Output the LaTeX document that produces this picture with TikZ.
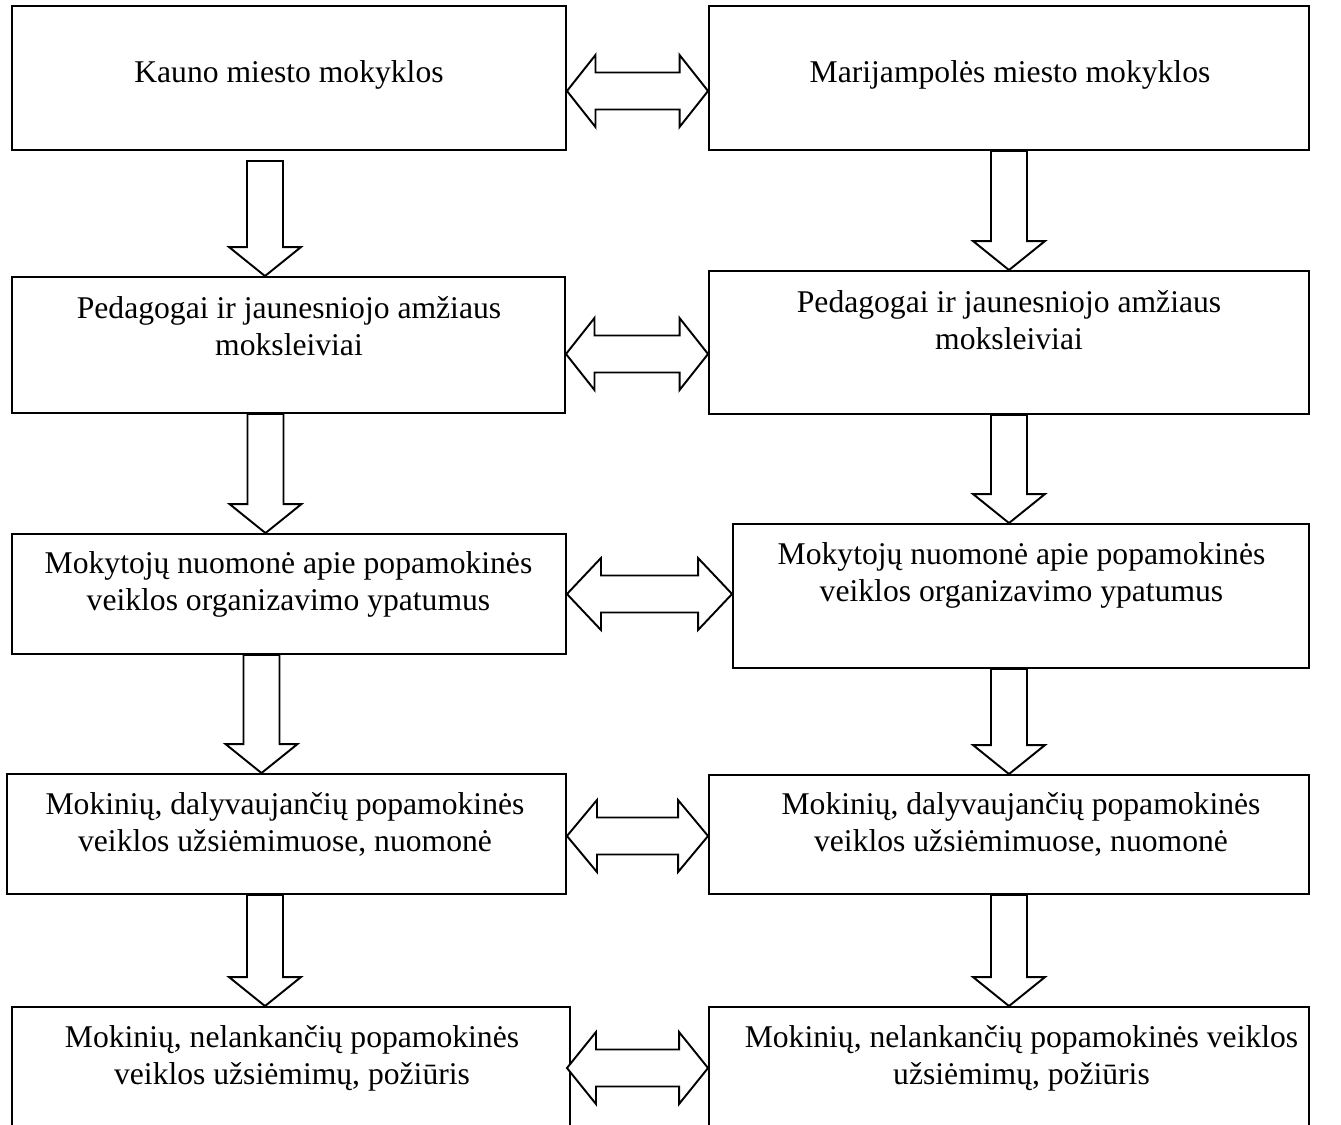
\documentclass[tikz,border=0pt]{standalone}
\usepackage{fontspec}
\setmainfont{Liberation Serif}
\usetikzlibrary{calc}

% hollow block arrows: start point, tip point
\newcommand{\downblock}[3][0.58cm]{%
  \draw[blockarrow] let \p1=(#2), \p2=(#3) in
    (\x2-0.36cm,\y1) -- (\x2+0.36cm,\y1) -- (\x2+0.36cm,\y2+#1)
    -- (\x2+0.72cm,\y2+#1) -- (\x2,\y2) -- (\x2-0.72cm,\y2+#1)
    -- (\x2-0.36cm,\y2+#1) -- cycle;}
\newcommand{\sideblock}[3][0.57cm]{%
  \draw[blockarrow] let \p1=(#2), \p2=(#3) in
    (\x1,\y1) -- (\x1+#1,\y1+0.72cm) -- (\x1+#1,\y1+0.37cm) -- (\x2-#1,\y1+0.37cm)
    -- (\x2-#1,\y1+0.72cm) -- (\x2,\y1) -- (\x2-#1,\y1-0.72cm) -- (\x2-#1,\y1-0.37cm)
    -- (\x1+#1,\y1-0.37cm) -- (\x1+#1,\y1-0.72cm) -- cycle;}

\begin{document}
\begin{tikzpicture}[
    box/.style={draw, line width=1.1pt, inner sep=0pt},
    txt/.style={align=center, inner sep=0pt, font=\fontsize{18}{21}\selectfont},
    blockarrow/.style={draw, line width=1.1pt, fill=white, line join=miter}]
    \useasboundingbox (0,0) rectangle (26.82,-22.48);

    % left column: Kaunas
    \node[box, minimum width=11.08cm, minimum height=2.88cm] (L1) at (5.78,-1.56) {};
    \node[box, minimum width=11.06cm, minimum height=2.72cm] (L2) at (5.77,-6.90) {};
    \node[box, minimum width=11.08cm, minimum height=2.40cm] (L3) at (5.78,-11.88) {};
    \node[box, minimum width=11.18cm, minimum height=2.40cm] (L4) at (5.73,-16.68) {};
    \node[box, minimum width=11.16cm, minimum height=2.86cm] (L5) at (5.82,-21.57) {};

    % right column: Marijampole
    \node[box, minimum width=12.00cm, minimum height=2.88cm] (R1) at (20.18,-1.56) {};
    \node[box, minimum width=12.00cm, minimum height=2.86cm] (R2) at (20.18,-6.85) {};
    \node[box, minimum width=11.52cm, minimum height=2.88cm] (R3) at (20.42,-11.92) {};
    \node[box, minimum width=12.00cm, minimum height=2.38cm] (R4) at (20.18,-16.69) {};
    \node[box, minimum width=12.00cm, minimum height=2.86cm] (R5) at (20.18,-21.57) {};

    \node[txt] (L1t) at (5.78,-1.50) {Kauno miesto mokyklos};
    \node[txt] (L2t) at (5.78,-6.52) {Pedagogai ir jaunesniojo amžiaus\\moksleiviai};
    \node[txt] (L3t) at (5.77,-11.69) {Mokytojų nuomonė apie popamokinės\\veiklos organizavimo ypatumus};
    \node[txt] (L4t) at (5.70,-16.49) {Mokinių, dalyvaujančių popamokinės\\veiklos užsiėmimuose, nuomonė};
    \node[txt] (L5t) at (5.84,-21.16) {Mokinių, nelankančių popamokinės\\veiklos užsiėmimų, požiūris};

    \node[txt] (R1t) at (20.20,-1.50) {Marijampolės miesto mokyklos};
    \node[txt] (R2t) at (20.18,-6.40) {Pedagogai ir jaunesniojo amžiaus\\moksleiviai};
    \node[txt] (R3t) at (20.43,-11.50) {Mokytojų nuomonė apie popamokinės\\veiklos organizavimo ypatumus};
    \node[txt] (R4t) at (20.42,-16.49) {Mokinių, dalyvaujančių popamokinės\\veiklos užsiėmimuose, nuomonė};
    \node[txt] (R5t) at (20.43,-21.16) {Mokinių, nelankančių popamokinės veiklos\\užsiėmimų, požiūris};

    % downward arrows
    \downblock{[yshift=-0.2cm]L1.south}{[xshift=-0.47cm]L2.north}
    \downblock{L2.south}{[xshift=-0.47cm]L3.north}
    \downblock{L3.south}{[xshift=-0.5cm]L4.north}
    \downblock{L4.south}{[xshift=-0.52cm]L5.north}
    \downblock{R1.south}{R2.north}
    \downblock{R2.south}{[xshift=-0.24cm]R3.north}
    \downblock{R3.south}{R4.north}
    \downblock{R4.south}{R5.north}

    % two-way arrows between the towns
    \sideblock{[yshift=-0.26cm]L1.east}{R1.west}
    \sideblock{[yshift=-0.18cm]L2.east}{R2.west}
    \sideblock[0.68cm]{L3.east}{R3.west}
    \sideblock[0.6cm]{[yshift=-0.04cm]L4.east}{R4.west}
    \sideblock[0.58cm]{[xshift=-0.08cm,yshift=0.21cm]L5.east}{R5.west}
\end{tikzpicture}
\end{document}
